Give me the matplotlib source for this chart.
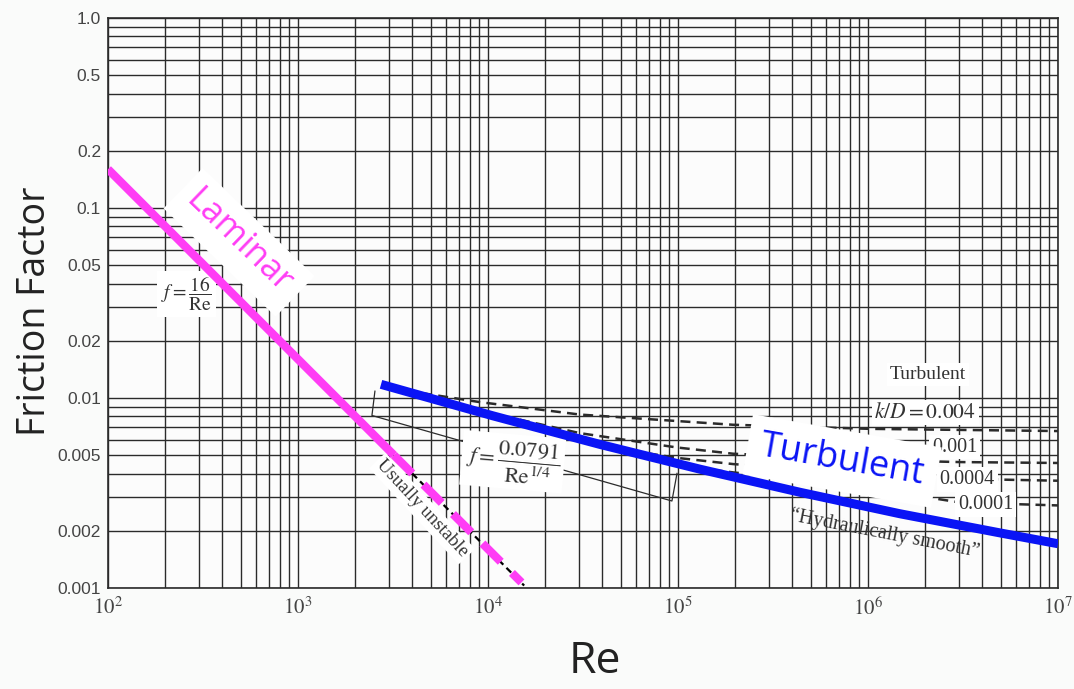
import matplotlib.pyplot as plt
import numpy as np
from matplotlib.ticker import LogLocator, NullFormatter

plt.rcParams['mathtext.fontset'] = 'stix'

# laminar branch, f = 16/Re
lam_re = [100, 3200]
lam_f = [0.16, 0.005]
unstable_re = [3200, 15000]
unstable_f = [0.005, 0.00107]
unstable_ink_re = [3000, 15500]
unstable_ink_f = [0.00533, 0.00103]

# hydraulically smooth turbulent curve
smooth_re = [2735, 10600, 38800, 130600, 438500, 1.47e6, 4.95e6, 1e7]
smooth_f = [0.0118, 0.00806, 0.00570, 0.00422, 0.00319, 0.00246, 0.00195, 0.00171]

# rough pipe curves
kd004_re = [3050, 9080, 30500, 1.95e5, 1.03e6, 1e7]
kd004_f = [0.01127, 0.00951, 0.00818, 0.00723, 0.00688, 0.00670]
kd001_re = [14700, 30500, 98800, 1.95e5, 1.03e6, 3.05e6, 1e7]
kd001_f = [0.00769, 0.00653, 0.00549, 0.00509, 0.00472, 0.00460, 0.00455]
kd0004_re = [38800, 98800, 1.95e5, 1.03e6, 4.95e6, 1e7]
kd0004_f = [0.00560, 0.00484, 0.00449, 0.00396, 0.00372, 0.00367]
kd0001_re = [1.03e5, 1.95e5, 5.14e5, 1.47e6, 3.05e6, 1e7]
kd0001_f = [0.00438, 0.00406, 0.00367, 0.00316, 0.00282, 0.00272]

# bracket marking the Blasius range
blasius_re = [2540, 2450, 92900, 98800]
blasius_f = [0.01086, 0.00809, 0.00287, 0.00401]

xticks = [1e2, 1e3, 1e4, 1e5, 1e6, 1e7]
xlabels = ['$10^{2}$', '$10^{3}$', '$10^{4}$', '$10^{5}$', '$10^{6}$', '$10^{7}$']
yticks = [1.0, 0.5, 0.2, 0.1, 0.05, 0.02, 0.01, 0.005, 0.002, 0.001]
ylabels = ['1.0', '0.5', '0.2', '0.1', '0.05', '0.02', '0.01', '0.005', '0.002', '0.001']

ink = '#2b2b2b'
magenta = '#ff3df5'
blue = '#0a14f5'
white_box = dict(facecolor='white', edgecolor='none', pad=2)

fig = plt.figure(figsize=(10.74, 6.89), dpi=100)
fig.patch.set_facecolor('#fafbfa')
ax = fig.add_axes([108 / 1074, 1 - 588 / 689, 950 / 1074, 570 / 689])
ax.set_facecolor('#fcfcfc')
ax.set_xscale('log')
ax.set_yscale('log')
ax.set_xlim(1e2, 1e7)
ax.set_ylim(1e-3, 1.0)

ax.set_axisbelow(True)
ax.xaxis.set_minor_locator(LogLocator(10, subs=np.arange(1, 10), numticks=100))
ax.yaxis.set_minor_locator(LogLocator(10, subs=np.arange(1, 10), numticks=100))
ax.xaxis.set_minor_formatter(NullFormatter())
ax.yaxis.set_minor_formatter(NullFormatter())
ax.grid(True, which='both', color=ink, lw=1.0)

ax.set_xticks(xticks)
ax.set_xticklabels(xlabels, fontsize=15, color='#444')
ax.set_yticks(yticks)
ax.set_yticklabels(ylabels, fontsize=12.5, color='#444', family='Liberation Sans')
ax.tick_params(which='both', length=0)
ax.tick_params(axis='x', pad=6)
ax.tick_params(axis='y', pad=5)
for sp in ax.spines.values():
    sp.set_color(ink)
    sp.set_linewidth(1.2)

# rough-pipe curves and Blasius bracket
for re, f in [(kd004_re, kd004_f), (kd001_re, kd001_f),
              (kd0004_re, kd0004_f), (kd0001_re, kd0001_f)]:
    ax.plot(re, f, color=ink, lw=1.8, dashes=(4, 2.5), zorder=2)
ax.plot(blasius_re, blasius_f, color=ink, lw=0.9, zorder=2)
ax.plot(unstable_ink_re, unstable_ink_f, color='black', lw=1.6,
        dashes=(3, 2), zorder=2)

# labels on white patches
ax.text(490, 0.066, 'Laminar', color=magenta, fontsize=25, family='Open Sans',
        rotation=-44, ha='center', va='center', bbox=dict(white_box, pad=8),
        zorder=3)
ax.text(258, 0.0352, r'$f=\dfrac{16}{\mathrm{Re}}$', fontsize=14, color='#333',
        ha='center', va='center', bbox=dict(white_box, pad=3), zorder=3)
ax.text(4500, 0.00262, 'Usually unstable', fontsize=13.5, color='#333',
        family='Liberation Serif', rotation=-47, ha='center', va='center',
        bbox=white_box, zorder=3)
ax.text(13500, 0.00462, r'$f=\dfrac{0.0791}{\mathrm{Re}^{1/4}}$', fontsize=16,
        color='#333', rotation=-5, ha='center', va='center',
        bbox=dict(white_box, pad=3), zorder=3)
ax.text(2.07e6, 0.0133, 'Turbulent', fontsize=14, color='#333',
        family='Liberation Serif', ha='center', va='center',
        bbox=white_box, zorder=3)
ax.text(2.0e6, 0.0084, r'$k/D=0.004$', fontsize=15.5, color='#333',
        ha='center', va='center', bbox=white_box, zorder=3)
ax.text(3.75e6, 0.00552, '0.001', fontsize=14.5, color='#333',
        family='Liberation Serif', ha='right', va='center',
        bbox=white_box, zorder=3)
ax.text(4.66e6, 0.00372, '0.0004', fontsize=14.5, color='#333',
        family='Liberation Serif', ha='right', va='center',
        bbox=white_box, zorder=3)
ax.text(5.8e6, 0.00275, '0.0001', fontsize=14.5, color='#333',
        family='Liberation Serif', ha='right', va='center',
        bbox=white_box, zorder=3)
ax.text(7.3e5, 0.00466, 'Turbulent', color=blue, fontsize=26, family='Open Sans',
        rotation=-10, ha='center', va='center', bbox=dict(white_box, pad=9),
        zorder=3.5)
ax.text(1.22e6, 0.00193, '\u201cHydraulically smooth\u201d', fontsize=14.5,
        color='#333', family='Liberation Serif', rotation=-11,
        ha='center', va='center', zorder=3)

# highlighted curves on top
ax.plot(lam_re, lam_f, color=magenta, lw=6, solid_capstyle='butt', zorder=4)
ax.plot(unstable_re, unstable_f, color=magenta, lw=6, dashes=(3.1, 1.9),
        zorder=4)
ax.plot(smooth_re, smooth_f, color=blue, lw=6.5, solid_capstyle='butt',
        zorder=4)

fig.text(35 / 1074, 1 - 311 / 689, 'Friction Factor', rotation=90, fontsize=27,
         family='Open Sans', color='#222', ha='center', va='center')
fig.text(595 / 1074, 1 - 662 / 689, 'Re', fontsize=32, family='Open Sans',
         color='#222', ha='center', va='center')

fig.savefig('out.png', dpi=100, facecolor=fig.get_facecolor())
